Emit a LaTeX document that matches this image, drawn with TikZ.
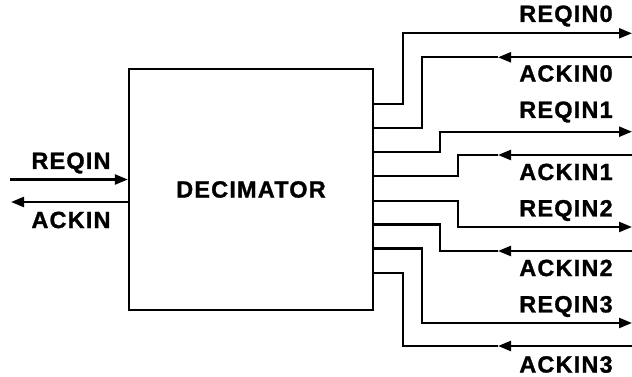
\documentclass[tikz,border=0pt]{standalone}
\usepackage{fontspec}
\setmainfont{Liberation Sans}[LetterSpace=7]
\newfontfamily\heavyfont{Liberation Sans Bold}[LetterSpace=5,FakeBold=1.2]
\usetikzlibrary{arrows.meta}
\begin{document}
\begin{tikzpicture}[x=1pt,y=-1pt,
  wire/.style={line width=2.3pt},
  tip/.style={wire,-{Triangle[length=13pt,width=10pt]}},
  lbl/.style={font=\fontsize{23.5}{25}\heavyfont,inner sep=0pt}]
\useasboundingbox (0,0) rectangle (632,377);
\node[draw,line width=2.3pt,minimum width=244pt,minimum height=241pt,inner sep=0pt,lbl] (dec) at (251,189.5) {DECIMATOR};
% left ports
\coordinate (lin) at (10,179.5);
\coordinate (lout) at (11,202);
\draw[tip] (lin) -- (dec.west |- lin);
\draw[tip] (dec.west |- lout) -- (lout);
\node[lbl] (treq) at (71,163) {REQIN};
\node[lbl] (tack) at (71,220) {ACKIN};
% right stubs
\coordinate (s1) at (373,104);
\coordinate (s2) at (373,128);
\coordinate (s3) at (373,152);
\coordinate (s4) at (373,176);
\coordinate (s5) at (373,201);
\coordinate (s6) at (373,224.5);
\coordinate (s7) at (373,248.5);
\coordinate (s8) at (373,273);
% port ends
\coordinate (e1) at (632,33.3);
\coordinate (e2) at (632,57.3);
\coordinate (m2) at (498,57.3);
\coordinate (e3) at (632,131.7);
\coordinate (e4) at (632,155);
\coordinate (m4) at (498,155);
\coordinate (e5) at (632,227);
\coordinate (e6) at (632,251);
\coordinate (m6) at (498,251);
\coordinate (e7) at (632,323);
\coordinate (e8) at (632,346);
\coordinate (m8) at (498,346);
% connectors
\draw[tip] (s1) -- ++(30,0) |- (e1);
\draw[wire] (s2) -- ++(49,0) |- (m2);
\draw[tip] (e2) -- (m2);
\draw[tip] (s3) -- ++(67,0) |- (e3);
\draw[wire] (s4) -- ++(85,0) |- (m4);
\draw[tip] (e4) -- (m4);
\draw[tip] (s5) -- ++(85,0) |- (e5);
\draw[wire] (s6) -- ++(67,0) |- (m6);
\draw[tip] (e6) -- (m6);
\draw[tip] (s7) -- ++(49,0) |- (e7);
\draw[wire] (s8) -- ++(30,0) |- (m8);
\draw[tip] (e8) -- (m8);
% labels
\node[lbl] (t1) at (566,16) {REQIN0};
\node[lbl] (t2) at (566,73.5) {ACKIN0};
\node[lbl] (t3) at (566,112) {REQIN1};
\node[lbl] (t4) at (566,172) {ACKIN1};
\node[lbl] (t5) at (566,210.5) {REQIN2};
\node[lbl] (t6) at (566,268) {ACKIN2};
\node[lbl] (t7) at (566,306.5) {REQIN3};
\node[lbl] (t8) at (566,364.5) {ACKIN3};
\end{tikzpicture}
\end{document}
